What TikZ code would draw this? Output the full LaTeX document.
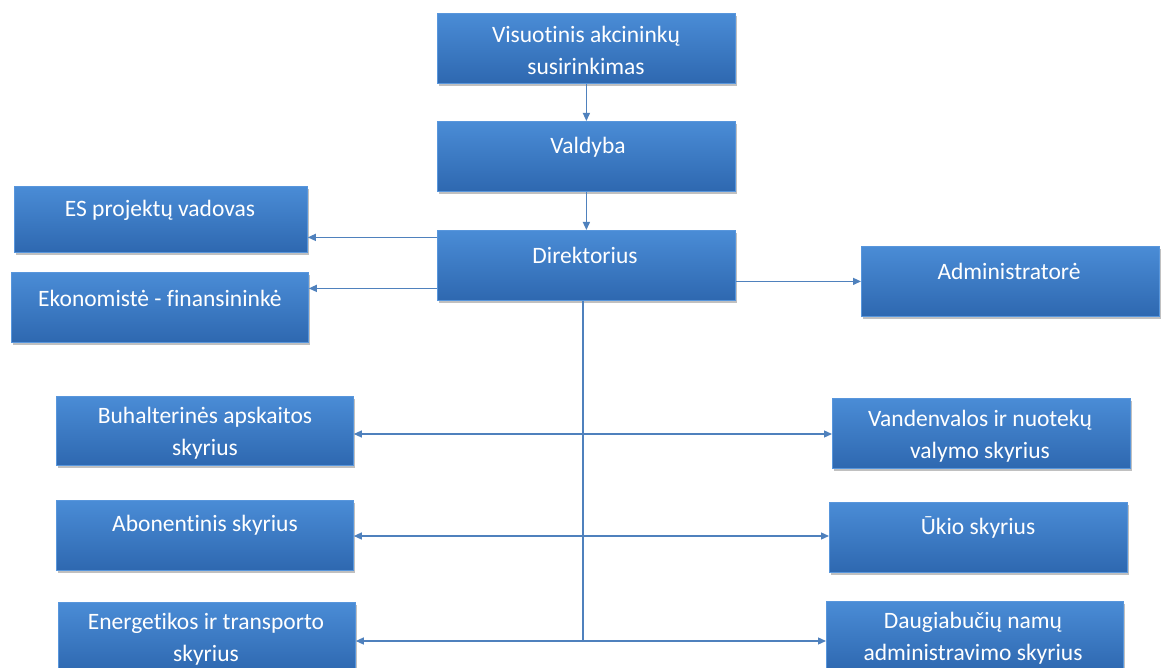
\documentclass[tikz,border=0pt]{standalone}
\usepackage{fontspec}
\setmainfont{Carlito}[Ligatures=NoCommon]
\usetikzlibrary{shadows,arrows.meta}
\definecolor{boxtop}{RGB}{74,140,214}
\definecolor{boxbot}{RGB}{46,104,176}
\definecolor{boxrim}{RGB}{88,150,220}
\definecolor{linec}{RGB}{79,129,189}
\tikzset{
  box/.style={rectangle, anchor=north west, minimum width=298pt, minimum height=70pt,
    top color=boxtop, bottom color=boxbot, draw=boxrim, line width=0.8pt,
    drop shadow={shadow xshift=1.5pt, shadow yshift=-2.5pt, opacity=0.35, fill=black!70}},
  txt/.style={text=white, font=\fontsize{23.5}{32}\selectfont, align=center, inner sep=0pt},
  conn/.style={draw=linec, line width=1.3pt},
  arr/.style={conn, -{Triangle[length=8pt,width=7pt]}},
  arrb/.style={conn, {Triangle[length=8pt,width=7pt]}-{Triangle[length=8pt,width=7pt]}}
}
\begin{document}
\begin{tikzpicture}[x=1pt,y=-1pt]
\clip (0,0) rectangle (1165,668);
\fill[white] (0,0) rectangle (1165,668);
% boxes
\node[box] (vis) at (437,13) {};
\node[box] (vald) at (437,121) {};
\node[box] (dir) at (437,230) {};
\node[box, minimum width=293pt, minimum height=66pt] (es) at (14,186) {};
\node[box, minimum width=297pt] (eko) at (11,272) {};
\node[box] (adm) at (861,246) {};
\node[box, minimum width=297pt, minimum height=69pt] (buh) at (56,396) {};
\node[box] (vand) at (832,398) {};
\node[box, minimum width=297pt] (abo) at (56,500) {};
\node[box] (uki) at (829,502) {};
\node[box, minimum width=297pt] (ene) at (58,602) {};
\node[box, minimum width=297pt] (dau) at (826,601) {};
% texts
\node[txt] (tvis) at (586,50) {Visuotinis akcininkų\\susirinkimas};
\node[txt] (tvald) at (588,147) {Valdyba};
\node[txt] (tdir) at (585,255) {Direktorius};
\node[txt] (tes) at (160,210) {ES projektų vadovas};
\node[txt] (teko) at (160,298) {Ekonomistė - finansininkė};
\node[txt] (tadm) at (1009,271) {Administratorė};
\node[txt] (tbuh) at (205,433) {Buhalterinės apskaitos\\skyrius};
\node[txt] (tvand) at (980,436) {Vandenvalos ir nuotekų\\valymo skyrius};
\node[txt] (tabo) at (205,525) {Abonentinis skyrius};
\node[txt] (tuki) at (978,527) {Ūkio skyrius};
\node[txt] (tene) at (206,639) {Energetikos ir transporto\\skyrius};
\node[txt] (tdau) at (973,638) {Daugiabučių namų\\administravimo skyrius};
% connectors
\draw[arr] (vis.south) -- (vald.north);
\draw[arr] (vald.south) -- (dir.north);
\draw[arr] ([yshift=28pt]dir.west) -- ([yshift=28pt]dir.west -| es.east);
\draw[arr] ([yshift=-23pt]dir.west) -- ([yshift=-23pt]dir.west -| eko.east);
\draw[arr] (dir.east |- adm.west) -- (adm.west);
\coordinate (j1) at (583,434);
\coordinate (j2) at (583,536);
\coordinate (j3) at (583,641);
\draw[conn] (dir.south -| j3) -- (j3);
\draw[arrb] (buh.east |- j1) -- (vand.west |- j1);
\draw[arrb] (abo.east |- j2) -- (uki.west |- j2);
\draw[arrb] (ene.east |- j3) -- (dau.west |- j3);
\end{tikzpicture}
\end{document}
